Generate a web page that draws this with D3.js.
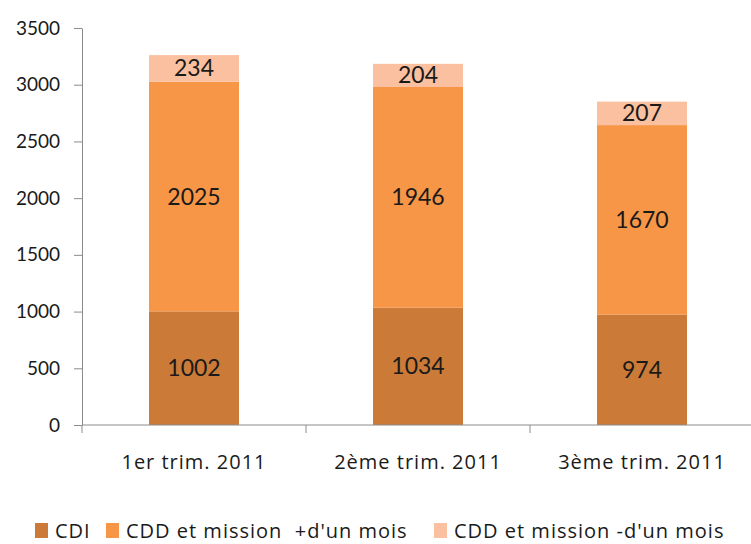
<!DOCTYPE html>
<html>
<head>
<meta charset="utf-8">
<script src="https://cdn.jsdelivr.net/npm/d3@7"></script>
<style>
  body { margin: 0; background: #fff; }
  text { font-family: Lato, sans-serif; fill: #1a1a1a; }
  .axis path, .axis line { stroke: #8c8c8c; }
  .large { font-family: "Open Sans", sans-serif; letter-spacing: 1px; }
</style>
</head>
<body>
<script>
// Les données du graphique.
var categories = ["1er trim. 2011", "2ème trim. 2011", "3ème trim. 2011"];
var series = ["CDI", "CDD et mission  +d'un mois", "CDD et mission -d'un mois"];
var cdi = [1002, 1034, 974];
var cddPlus = [2025, 1946, 1670];
var cddMoins = [234, 204, 207];
var yTicks = [0, 500, 1000, 1500, 2000, 2500, 3000, 3500];

var couleurs = ["#cb7a38", "#f79646", "#fac09f"];

var width = 751, height = 544;

var svg = d3.select("body").append("svg")
    .attr("width", width)
    .attr("height", height);

// Tableau pour la pile.
var table = categories.map(function(c, i) {
  return { cat: c, s0: cdi[i], s1: cddPlus[i], s2: cddMoins[i] };
});
var stack = d3.stack().keys(["s0", "s1", "s2"])(table);

// Les échelles.
var x = d3.scaleBand().domain(categories).range([82, 754]).paddingInner(0).paddingOuter(0);
var y = d3.scaleLinear().domain([0, 3500]).range([425, 28]);
var barW = 90;

// Axe Y.
svg.append("g")
    .attr("class", "axis")
    .attr("transform", "translate(82,0)")
    .call(d3.axisLeft(y).tickValues(yTicks).tickFormat(d3.format("d"))
      .tickSize(8).tickPadding(14).tickSizeOuter(0))
    .call(function(g) {
      g.selectAll("text").style("font-size", "19px").attr("fill", "#1a1a1a");
    });

// Les barres.
svg.append("g").selectAll("g")
    .data(stack)
    .enter().append("g")
    .attr("fill", function(d, i) { return couleurs[i]; })
    .each(function(s) {
      d3.select(this).selectAll("rect")
        .data(s)
        .enter().append("rect")
        .attr("x", function(d) { return x(d.data.cat) + (x.bandwidth() - barW) / 2; })
        .attr("width", barW)
        .attr("y", function(d) { return y(d[1]); })
        .attr("height", function(d) { return y(d[0]) - y(d[1]); });

      d3.select(this.parentNode).append("g").selectAll("text")
        .data(s)
        .enter().append("text")
        .attr("x", function(d) { return x(d.data.cat) + x.bandwidth() / 2; })
        .attr("y", function(d) { return (y(d[0]) + y(d[1])) / 2; })
        .attr("dy", "0.35em")
        .attr("text-anchor", "middle")
        .style("font-size", "23px")
        .text(function(d) { return d[1] - d[0]; });
    });

// Axe X.
var xAxis = svg.append("g")
    .attr("class", "axis")
    .attr("transform", "translate(0,425)")
    .call(d3.axisBottom(x).tickSize(0).tickPadding(30).tickSizeOuter(0));
xAxis.selectAll("text").attr("class", "large").style("font-size", "20px").attr("fill", "#1a1a1a");
xAxis.select(".domain").attr("d", "M82,0H751");
// Graduations entre les catégories.
xAxis.selectAll(".sep")
    .data([0, 1, 2])
    .enter().append("line")
    .attr("class", "sep")
    .attr("x1", function(d) { return x(categories[d]); })
    .attr("x2", function(d) { return x(categories[d]); })
    .attr("y1", 0).attr("y2", 8)
    .attr("stroke", "#8c8c8c");

// Légende.
var legendeX = [35, 106, 434];
var legende = svg.append("g").selectAll("g")
    .data(series)
    .enter().append("g")
    .attr("transform", function(d, i) { return "translate(" + legendeX[i] + ",523)"; });
legende.append("rect")
    .attr("width", 13).attr("height", 15)
    .attr("fill", function(d, i) { return couleurs[i]; });
legende.append("text")
    .attr("class", "large")
    .attr("x", 20).attr("y", 8).attr("dy", "0.35em")
    .style("font-size", "20px")
    .style("white-space", "pre")
    .text(function(d) { return d; });
</script>
</body>
</html>
